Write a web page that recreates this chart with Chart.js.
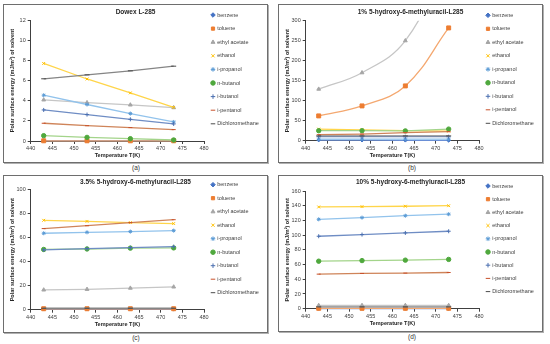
<!DOCTYPE html>
<html>
<head>
<meta charset="utf-8">
<script src="https://cdn.jsdelivr.net/npm/chart.js@4.4.0/dist/chart.umd.min.js"></script>
<style>
body { margin: 0; width: 550px; height: 344px; position: relative; overflow: hidden; background: #fff; font-family: "Liberation Sans", Arial, sans-serif; }
.panel { position: absolute; box-sizing: border-box; border: 1px solid #6e6e6e; box-shadow: 1px 1px 0 #b0b0b0; background: #fff; }
.panel canvas { position: absolute; left: 0; top: 0; }
.cap { position: absolute; font-size: 6.5px; color: #333; transform: translate(-50%, -50%); }
</style>
</head>
<body>
<div class="panel" style="left:3px;top:4px;width:265px;height:159px"><canvas id="chartA" width="263" height="157"></canvas></div>
<div class="panel" style="left:278px;top:4px;width:265px;height:159px"><canvas id="chartB" width="263" height="157"></canvas></div>
<div class="panel" style="left:3px;top:175px;width:265px;height:158px"><canvas id="chartC" width="263" height="156"></canvas></div>
<div class="panel" style="left:278px;top:175px;width:265px;height:157px"><canvas id="chartD" width="263" height="155"></canvas></div>
<div class="cap" style="left:136px;top:167px">(a)</div>
<div class="cap" style="left:412px;top:167px">(b)</div>
<div class="cap" style="left:136px;top:337px">(c)</div>
<div class="cap" style="left:412px;top:336px">(d)</div>
<script>
const temps = [443, 453, 463, 473];
const xTicks = [440, 445, 450, 455, 460, 465, 470, 475, 480];
const solvents = ['benzene', 'toluene', 'ethyl acetate', 'ethanol', 'i-propanol', 'n-butanol', 'i-butanol', 'i-pentanol', 'Dichloromethane'];

// one row per solvent, same order as solvents
const dowex = [
	[0.03, 0.03, 0.03, 0.03],
	[0.02, 0.02, 0.02, 0.02],
	[4.08, 3.81, 3.58, 3.31],
	[7.69, 6.15, 4.77, 3.33],
	[4.54, 3.62, 2.72, 1.89],
	[0.53, 0.36, 0.23, 0.1],
	[3.08, 2.62, 2.15, 1.69],
	[1.76, 1.52, 1.33, 1.13],
	[6.17, 6.56, 6.96, 7.42]
];
const hmu1 = [
	[1.5, 1.2, 1.0, 0.8],
	[62, 87, 137, 282],
	[129, 170, 250, 460],
	[29, 27, 25, 24],
	[4, 4, 4, 4],
	[25, 25, 24.5, 29],
	[10, 10, 10, 10],
	[15, 16.5, 20, 22.5],
	[12, 12, 12, 12]
];
const hmu35 = [
	[0.5, 0.5, 0.5, 0.5],
	[0.8, 0.8, 0.8, 0.8],
	[16.5, 17, 18, 19],
	[74.5, 73.6, 72.6, 71.8],
	[63.7, 64.5, 65.1, 65.9],
	[50.2, 50.6, 51.3, 51.5],
	[49.8, 50.9, 51.7, 52.6],
	[67.6, 70, 72.6, 75],
	[1.2, 1.2, 1.2, 1.2]
];
const hmu10 = [
	[0.3, 0.3, 0.3, 0.3],
	[0.5, 0.5, 0.5, 0.5],
	[4.5, 4.5, 4.5, 4.5],
	[138.3, 138.8, 139.3, 140],
	[121.5, 123.8, 126.4, 128.5],
	[64.6, 65.4, 66, 67],
	[98.5, 100.8, 103, 105.3],
	[47, 47.9, 48.4, 49.2],
	[2.5, 2.5, 2.5, 2.5]
];

const markerColors = ['#4472C4', '#ED7D31', '#A5A5A5', '#FFC000', '#5B9BD5', '#4FA83D', '#4A6FB0', '#C8502A', '#4A4A4A'];
const lineColors = ['#6A8FD6', '#F4A870', '#C6C6C6', '#FFD54A', '#92C3EC', '#A3D48A', '#6F8DC4', '#CF8459', '#858585'];
const markerStyles = ['rectRot', 'rect', 'triangle', 'crossRot', 'star', 'circle', 'cross', 'line', 'line'];
const markerSizes = [1.8, 2.8, 2.2, 2, 2, 2.2, 2, 2, 2.5];

Chart.defaults.font.family = '"Liberation Sans", Arial, sans-serif';
Chart.defaults.color = '#404040';

// puts the legend where the original has it and keeps it in one column
const legendPlace = {
	id: 'legendPlace',
	afterInit(chart, args, opts) {
		const lg = chart.legend;
		const fit = lg.fit;
		lg.fit = function () {
			this.maxHeight = 2000;
			fit.call(this);
			this.width = opts.width;
		};
	},
	afterLayout(chart, args, opts) {
		const lg = chart.legend;
		lg.left = opts.x - opts.pad;
		lg.right = lg.left + lg.width;
		lg.top = opts.y - opts.pad - 2.75;
		lg.bottom = lg.top + 1000;
	}
};

function makeChart(id, titleText, rows, yMax, yStep, L, curved) {
	const datasets = solvents.map((name, i) => ({
		label: name,
		data: temps.map((t, j) => ({x: t, y: rows[i][j]})),
		borderColor: lineColors[i],
		borderWidth: 1.3,
		backgroundColor: markerColors[i],
		pointBackgroundColor: markerColors[i],
		pointBorderColor: markerColors[i],
		pointBorderWidth: 1,
		pointStyle: markerStyles[i],
		pointRadius: markerSizes[i],
		tension: curved.includes(i) ? 0.4 : 0,
		capBezierPoints: false,
		clip: {left: 8, right: 8, top: 0, bottom: 8},
		order: -i
	}));
	return new Chart(document.getElementById(id), {
		type: 'line',
		data: {datasets: datasets},
		plugins: [legendPlace],
		options: {
			responsive: false,
			animation: false,
			layout: {padding: 0},
			plugins: {
				legend: {
					position: 'right',
					align: 'start',
					labels: {
						usePointStyle: true,
						boxWidth: 3,
						boxHeight: 3.2,
						padding: L.legPad,
						color: '#404040',
						font: {size: 5.5},
						sort: (a, b) => a.datasetIndex - b.datasetIndex
					}
				},
				legendPlace: {x: 207.5, y: L.legY, pad: L.legPad, width: 63},
				title: {
					display: true,
					text: titleText,
					color: '#262626',
					font: {size: 6.5, weight: 'bold', lineHeight: 1.2},
					padding: {top: L.titleC - 3.9, bottom: L.top - L.titleC - 3.9}
				},
				tooltip: {enabled: false}
			},
			scales: {
				x: {
					type: 'linear',
					min: xTicks[0],
					max: xTicks[xTicks.length - 1],
					afterFit: s => { s.height = L.xh; },
					ticks: {stepSize: 5, padding: 1, font: {size: 5.5}, color: '#404040'},
					grid: {drawOnChartArea: false, drawTicks: true, tickLength: 3, color: '#404040'},
					border: {display: true, color: '#404040', width: 1},
					title: {display: true, text: 'Temperature T(K)', color: '#262626', font: {size: 5.5, weight: 'bold'}, padding: {top: 0, bottom: L.xtPad}}
				},
				y: {
					min: 0,
					max: yMax,
					afterFit: s => { s.width = 26.7; },
					ticks: {stepSize: yStep, padding: 2, font: {size: 5.5}, color: '#404040'},
					grid: {drawOnChartArea: false, drawTicks: true, tickLength: 3, color: '#404040'},
					border: {display: true, color: '#404040', width: 1},
					title: {display: true, text: 'Polar surface energy (mJ/m²) of solvent', color: '#262626', font: {size: 5.5, weight: 'bold'}, padding: {top: 5.4, bottom: 0}}
				}
			}
		}
	});
}

makeChart('chartA', 'Dowex L-285', dowex, 12, 2,
	{top: 15, titleC: 7.3, xh: 21, xtPad: 3.2, legY: 10, legPad: 8.1}, []);
makeChart('chartB', '1% 5-hydroxy-6-methyluracil-L285', hmu1, 300, 50,
	{top: 15.7, titleC: 7.3, xh: 21.3, xtPad: 3, legY: 10.3, legPad: 8}, [1, 2]);
makeChart('chartC', '3.5% 5-hydroxy-6-methyluracil-L285', hmu35, 100, 20,
	{top: 13.7, titleC: 6, xh: 22.3, xtPad: 4.7, legY: 8.7, legPad: 8}, []);
makeChart('chartD', '10% 5-hydroxy-6-methyluracil-L285', hmu10, 160, 20,
	{top: 15, titleC: 6, xh: 22.3, xtPad: 4.7, legY: 10, legPad: 7.7}, []);
</script>
</body>
</html>
